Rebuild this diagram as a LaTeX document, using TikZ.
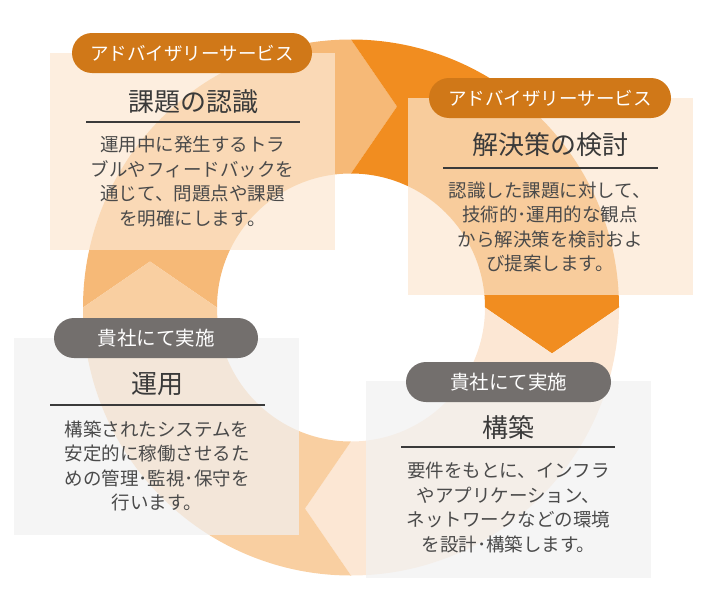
\documentclass[tikz,border=0pt]{standalone}
\usepackage{fontspec}
\setmainfont{Noto Sans CJK JP}
\usetikzlibrary{calc}
\definecolor{ringA}{HTML}{F6B977}
\definecolor{ringB}{HTML}{F18D20}
\definecolor{ringC}{HTML}{FCE7D4}
\definecolor{ringD}{HTML}{F9CFA1}
\definecolor{peach}{RGB}{252,231,209}
\definecolor{grayb}{RGB}{241,241,241}
\definecolor{pillO}{HTML}{D07818}
\definecolor{pillG}{HTML}{736F6D}
\definecolor{titc}{HTML}{3A3A3A}
\definecolor{bodyc}{HTML}{4A4A4A}
\begin{document}
\begin{tikzpicture}[x=1pt,y=1pt,
  panel/.style={fill=#1, fill opacity=0.7, draw=none, minimum width=285pt, minimum height=197pt, inner sep=0pt},
  pill/.style={fill=#1, rounded corners=20pt, minimum height=40pt, inner sep=0pt, text=white, font=\fontsize{18.5}{20}\selectfont},
  ttl/.style={text=titc, inner sep=0pt, font=\fontsize{26}{28}\selectfont},
  bodytext/.style={text=bodyc, inner sep=0pt, align=center, font=\fontsize{18.5}{24.5}\selectfont},
  rule/.style={draw=titc, line width=2pt}]
\useasboundingbox (0,0) rectangle (712,-605);
\coordinate (C) at (351,-307.5);
% ring segments with chevrons
\foreach \a/\c in {180/ringA, 90/ringB, 0/ringC, -90/ringD} {
  \pgfmathsetmacro\b{\a-90}
  \pgfmathsetmacro\ta{\a-90}
  \pgfmathsetmacro\tb{\a-180}
  \fill[\c] ($(C)+(\a:268)$) arc[start angle=\a, end angle=\b, radius=268]
    -- ($(C)+(\b:201)+(\tb:46)$) -- ($(C)+(\b:134)$)
    arc[start angle=\b, end angle=\a, radius=134]
    -- ($(C)+(\a:201)+(\ta:46)$) -- cycle;
}
% panels
\node[panel=peach] (p1) at (192.5,-151.5) {};
\node[panel=peach] (p2) at (550,-196.5) {};
\node[panel=grayb] (p3) at (156.5,-436) {};
\node[panel=grayb] (p4) at (508.5,-479.5) {};
% pills
\node[pill=pillO, minimum width=240pt] (l1) at (192,-53) {アドバイザリーサービス};
\node[pill=pillO, minimum width=242pt] (l2) at (550,-98) {アドバイザリーサービス};
\node[pill=pillG, minimum width=204pt, font=\fontsize{19.5}{21}\selectfont] (l3) at (156,-338) {貴社にて実施};
\node[pill=pillG, minimum width=205pt, font=\fontsize{19.5}{21}\selectfont] (l4) at (508.5,-382) {貴社にて実施};
% titles
\node[ttl] (t1) at (193,-101.5) {課題の認識};
\node[ttl] (t2) at (550.5,-145) {解決策の検討};
\node[ttl] (t3) at (157,-384) {運用};
\node[ttl] (t4) at (508,-428) {構築};
% rules
\coordinate (r1a) at (86,-122); \coordinate (r1b) at (300,-122);
\coordinate (r2a) at (443,-168); \coordinate (r2b) at (658,-168);
\coordinate (r3a) at (50,-405); \coordinate (r3b) at (265,-405);
\coordinate (r4a) at (401,-447); \coordinate (r4b) at (615,-447);
\draw[rule] (r1a) -- (r1b);
\draw[rule] (r2a) -- (r2b);
\draw[rule] (r3a) -- (r3b);
\draw[rule] (r4a) -- (r4b);
% body texts
\node[bodytext] (d1) at (192.5,-181.5) {運用中に発生するトラ\\ブルやフィードバックを\\通じて、問題点や課題\\を明確にします。};
\node[bodytext] (d2) at (550,-227) {認識した課題に対して、\\技術的･運用的な観点\\から解決策を検討およ\\び提案します。};
\node[bodytext] (d3) at (157,-466) {構築されたシステムを\\安定的に稼働させるた\\めの管理･監視･保守を\\行います。};
\node[bodytext] (d4) at (508.5,-507.5) {要件をもとに、インフラ\\やアプリケーション、\\ネットワークなどの環境\\を設計･構築します。};
\end{tikzpicture}
\end{document}
